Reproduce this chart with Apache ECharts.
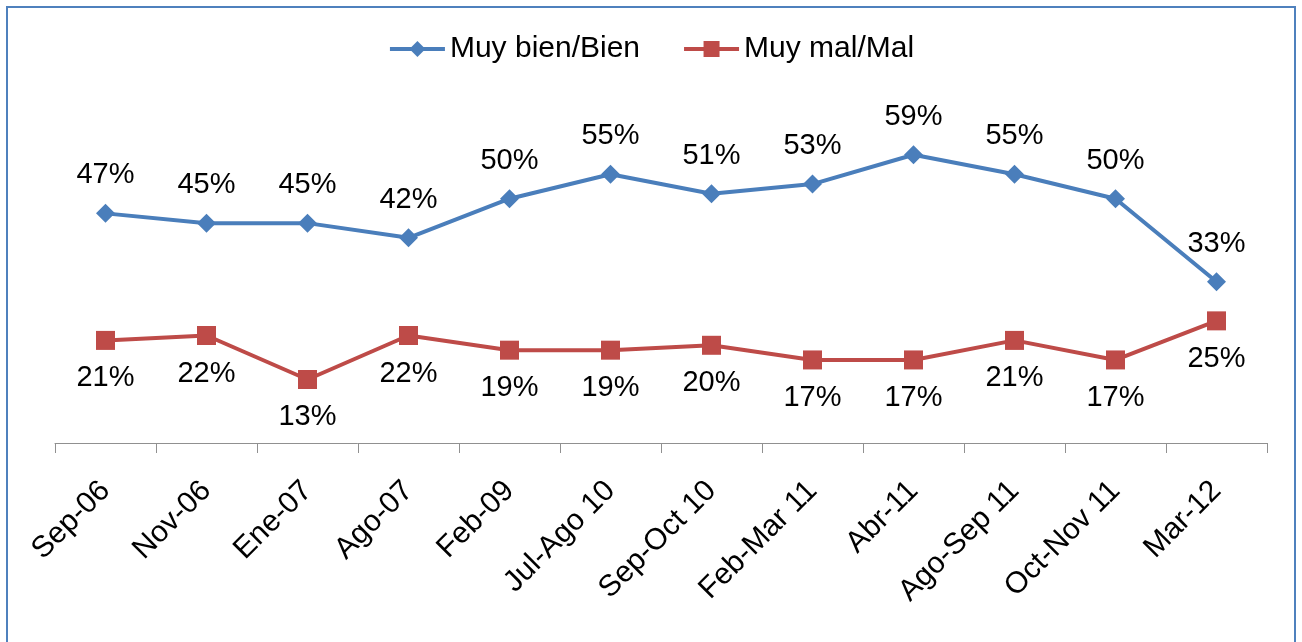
<!DOCTYPE html>
<html>
<head>
<meta charset="utf-8">
<style>
  html, body { margin: 0; padding: 0; background: #fff; }
  #chart { width: 1302px; height: 642px; }
</style>
<script src="https://cdn.jsdelivr.net/npm/echarts@6/dist/echarts.min.js"></script>
</head>
<body>
<div id="chart"></div>
<script>
const CATEGORIES = ['Sep-06', 'Nov-06', 'Ene-07', 'Ago-07', 'Feb-09', 'Jul-Ago 10',
  'Sep-Oct 10', 'Feb-Mar 11', 'Abr-11', 'Ago-Sep 11', 'Oct-Nov 11', 'Mar-12'];
const BIEN = [47, 45, 45, 42, 50, 55, 51, 53, 59, 55, 50, 33];
const MAL = [21, 22, 13, 22, 19, 19, 20, 17, 17, 21, 17, 25];

const FONT = '"Liberation Sans", Arial, sans-serif';
const FONT_SIZE = 29;

const chart = echarts.init(document.getElementById('chart'));

const option = {
  animation: false,
  textStyle: {fontFamily: FONT},
  // outer frame like the original picture
  graphic: [{
    type: 'rect',
    shape: {x: 7, y: 7, width: 1288, height: 660},
    style: {fill: 'none', stroke: '#4f81bd', lineWidth: 2}
  }],
  legend: {
    top: 29,
    left: 'center',
    itemWidth: 55,
    itemHeight: 20,
    itemGap: 42,
    lineStyle: {width: 4},
    textStyle: {fontSize: 30, color: '#000', fontFamily: FONT}
  },
  grid: {left: 55, right: 35, top: 101, height: 342},
  xAxis: {
    type: 'category',
    data: CATEGORIES,
    boundaryGap: true,
    axisLine: {lineStyle: {color: '#909090', width: 1}},
    axisTick: {show: true, length: 10, lineStyle: {color: '#909090', width: 1}},
    axisLabel: {
      rotate: 45,
      fontSize: 30,
      color: '#000',
      margin: 43,
      interval: 0,
      fontFamily: FONT
    }
  },
  yAxis: {
    type: 'value',
    min: 0,
    max: 70,
    show: false,
    splitLine: {show: false}
  },
  series: [
    {
      name: 'Muy bien/Bien',
      type: 'line',
      data: BIEN,
      symbol: 'diamond',
      symbolSize: 19,
      itemStyle: {color: '#4a7ebb'},
      lineStyle: {color: '#4a7ebb', width: 4},
      label: {
        show: true,
        position: 'top',
        distance: 14,
        formatter: '{c}%',
        fontSize: FONT_SIZE,
        color: '#000',
        fontFamily: FONT
      }
    },
    {
      name: 'Muy mal/Mal',
      type: 'line',
      data: MAL,
      symbol: 'rect',
      symbolSize: 19,
      itemStyle: {color: '#be4b48'},
      lineStyle: {color: '#be4b48', width: 4},
      label: {
        show: true,
        position: 'bottom',
        distance: 14,
        formatter: '{c}%',
        fontSize: FONT_SIZE,
        color: '#000',
        fontFamily: FONT
      }
    }
  ]
};

chart.setOption(option);
</script>
</body>
</html>
